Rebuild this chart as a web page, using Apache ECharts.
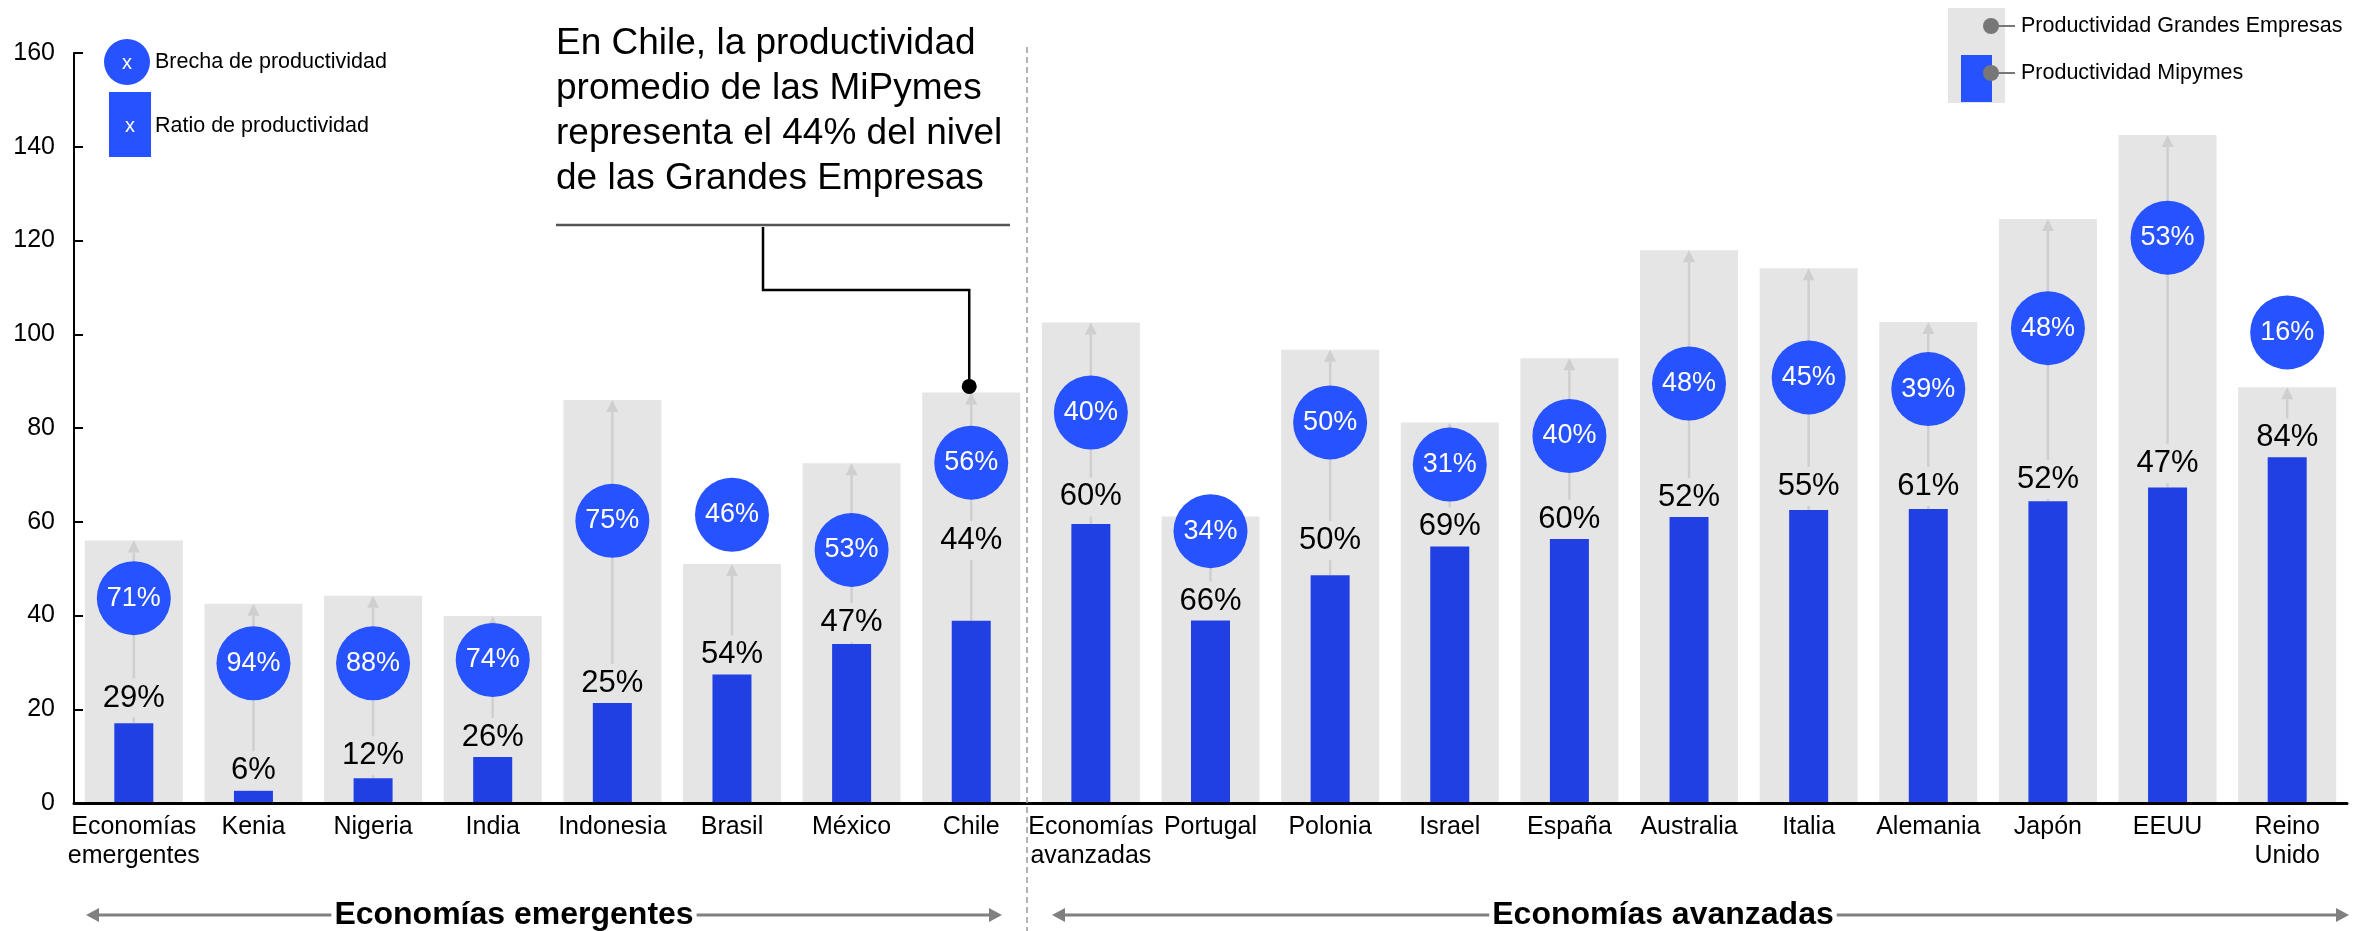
<!DOCTYPE html>
<html>
<head>
<meta charset="utf-8">
<script src="https://cdn.jsdelivr.net/npm/echarts@6/dist/echarts.min.js"></script>
<style>
  html, body { margin: 0; padding: 0; background: #fff; }
  #chart { width: 2369px; height: 931px; }
</style>
</head>
<body>
<div id="chart"></div>
<script>
// Productividad por tamaño de empresa: MiPymes vs Grandes Empresas
const categories = [
  'Economías\nemergentes', 'Kenia', 'Nigeria', 'India', 'Indonesia', 'Brasil', 'México', 'Chile',
  'Economías\navanzadas', 'Portugal', 'Polonia', 'Israel', 'España', 'Australia', 'Italia',
  'Alemania', 'Japón', 'EEUU', 'Reino\nUnido'
];
// Productividad de las Grandes Empresas (barra gris)
const grandes = [56.0, 42.5, 44.2, 39.9, 86.0, 51.0, 72.5, 87.6, 102.5, 61.1, 96.7, 81.2, 94.9, 117.9, 114.1, 102.6, 124.6, 142.5, 88.7];
// Productividad de las MiPymes (barra azul)
const mipymes = [17.0, 2.6, 5.3, 10.0, 21.5, 27.7, 33.9, 38.9, 59.5, 39.2, 48.6, 55.0, 56.3, 61.1, 62.5, 62.7, 64.4, 67.3, 73.8];
// Ratio de productividad MiPymes / Grandes (%)
const ratio = [29, 6, 12, 26, 25, 54, 47, 44, 60, 66, 50, 69, 60, 52, 55, 61, 52, 47, 84];
// Brecha de productividad (%)
const brecha = [71, 94, 88, 74, 75, 46, 53, 56, 40, 34, 50, 31, 40, 48, 45, 39, 48, 53, 16];
// Altura (en unidades del eje) donde se ubica cada etiqueta
const ratioAltura = [22.4, 6.9, 10.1, 14.0, 25.5, 31.6, 38.5, 56.0, 65.3, 43.1, 56.0, 58.9, 60.5, 65.2, 67.5, 67.5, 69.0, 72.4, 77.9];
const brechaAltura = [43.7, 29.8, 29.8, 30.5, 60.2, 61.5, 54.0, 72.6, 83.3, 58.0, 81.2, 72.2, 78.3, 89.5, 90.8, 88.3, 101.3, 120.6, 100.4];
const yTicks = { min: 0, max: 160, interval: 20 };

const FONT = "'Liberation Sans', Arial, Helvetica, sans-serif";
const GRAY = '#E5E5E5';
const BAR_BLUE = '#2040E3';
const CIRCLE_BLUE = '#2652FF';
const ARROW = '#CFCFCF';

const chart = echarts.init(document.getElementById('chart'), null, { renderer: 'canvas' });

const option = {
  animation: false,
  backgroundColor: '#fff',
  textStyle: { fontFamily: FONT },
  grid: { left: 74, right: 22, top: 53, bottom: 128, containLabel: false },
  xAxis: [
    {
      type: 'category',
      data: categories,
      axisLine: { lineStyle: { color: '#000', width: 3 } },
      axisTick: { show: false },
      axisLabel: {
        color: '#000', fontSize: 25, lineHeight: 29, margin: 10,
        fontFamily: FONT, interval: 0
      },
      splitLine: { show: false },
      z: 10
    },
    {
      // eje gemelo para centrar la barra azul sobre la gris
      type: 'category',
      data: categories,
      position: 'bottom',
      show: false
    }
  ],
  yAxis: {
    type: 'value',
    min: yTicks.min, max: yTicks.max, interval: yTicks.interval,
    axisLine: { show: true, lineStyle: { color: '#000', width: 2 } },
    axisTick: { show: true, inside: true, length: 9, lineStyle: { color: '#000', width: 2 } },
    axisLabel: { color: '#000', fontSize: 25, margin: 19, fontFamily: FONT },
    splitLine: { show: false }
  },
  series: [
    {
      name: 'Productividad Grandes Empresas',
      type: 'bar',
      xAxisIndex: 0,
      data: grandes,
      barWidth: 98,
      itemStyle: { color: GRAY },
      z: 1
    },
    {
      name: 'Productividad Mipymes',
      type: 'bar',
      xAxisIndex: 1,
      data: mipymes,
      barWidth: 39,
      itemStyle: { color: BAR_BLUE },
      z: 3
    },
    {
      // flecha desde la barra MiPyme hasta la barra de Grandes Empresas
      name: 'flecha',
      type: 'custom',
      xAxisIndex: 0,
      data: categories.map((c, i) => [i, mipymes[i], grandes[i]]),
      encode: { x: 0, y: [1, 2] },
      z: 2,
      silent: true,
      renderItem: function (params, api) {
        const base = api.coord([api.value(0), api.value(1)]);
        const tip = api.coord([api.value(0), api.value(2)]);
        const head = 12, half = 6;
        return {
          type: 'group',
          children: [
            { type: 'line', shape: { x1: base[0], y1: base[1], x2: tip[0], y2: tip[1] + head },
              style: { stroke: ARROW, lineWidth: 2.5 } },
            { type: 'polygon', shape: { points: [[tip[0], tip[1]], [tip[0] - half, tip[1] + head], [tip[0] + half, tip[1] + head]] },
              style: { fill: ARROW } }
          ]
        };
      }
    },
    {
      name: 'Ratio de productividad',
      type: 'scatter',
      xAxisIndex: 0,
      data: categories.map((c, i) => [i, ratioAltura[i], ratio[i]]),
      symbolSize: 1,
      itemStyle: { color: 'rgba(0,0,0,0)', opacity: 1 },
      z: 4,
      silent: true,
      label: {
        show: true,
        position: 'inside',
        formatter: p => p.value[2] + '%',
        color: '#000',
        opacity: 1,
        fontSize: 31,
        lineHeight: 31,
        fontFamily: FONT,
        backgroundColor: GRAY,
        padding: [5, 2, 3, 2]
      }
    },
    {
      name: 'Brecha de productividad',
      type: 'scatter',
      xAxisIndex: 0,
      data: categories.map((c, i) => [i, brechaAltura[i], brecha[i]]),
      symbol: 'circle',
      symbolSize: 74,
      itemStyle: { color: CIRCLE_BLUE, opacity: 1 },
      z: 5,
      silent: true,
      label: {
        show: true,
        position: 'inside',
        formatter: p => p.value[2] + '%',
        color: '#fff',
        fontSize: 27,
        fontFamily: FONT
      }
    }
  ]
};

chart.setOption(option);

// Elementos de anotación y leyendas
const chileIdx = categories.indexOf('Chile');
const chileTop = chart.convertToPixel({ xAxisIndex: 0, yAxisIndex: 0 }, [chileIdx, grandes[chileIdx]]);
const dotX = chileTop[0] - 2;
const dotY = chileTop[1] - 6;

function arrowHead(x, y, dir, color) {
  const L = 13, H = 7;
  return {
    type: 'polygon',
    shape: { points: [[x, y], [x - dir * L, y - H], [x - dir * L, y + H]] },
    style: { fill: color }
  };
}

const graphics = [
  // separador entre grupos
  { type: 'line', shape: { x1: 1027, y1: 47, x2: 1027, y2: 931 },
    style: { stroke: '#9a9a9a', lineWidth: 1.5, lineDash: [6, 4] } },

  // leyenda izquierda
  { type: 'circle', shape: { cx: 127, cy: 62, r: 23 }, style: { fill: CIRCLE_BLUE } },
  { type: 'text', x: 127, y: 63, style: { text: 'x', fill: '#fff', font: '20px ' + FONT, align: 'center', verticalAlign: 'middle' } },
  { type: 'text', x: 155, y: 62, style: { text: 'Brecha de productividad', fill: '#000', font: '21.5px ' + FONT, verticalAlign: 'middle' } },
  { type: 'rect', shape: { x: 109, y: 92, width: 42, height: 65 }, style: { fill: CIRCLE_BLUE } },
  { type: 'text', x: 130, y: 126, style: { text: 'x', fill: '#fff', font: '20px ' + FONT, align: 'center', verticalAlign: 'middle' } },
  { type: 'text', x: 155, y: 126, style: { text: 'Ratio de productividad', fill: '#000', font: '21.5px ' + FONT, verticalAlign: 'middle' } },

  // leyenda derecha
  { type: 'rect', shape: { x: 1948, y: 8, width: 57, height: 95 }, style: { fill: GRAY } },
  { type: 'rect', shape: { x: 1961, y: 55, width: 31, height: 47 }, style: { fill: CIRCLE_BLUE } },
  { type: 'line', shape: { x1: 1991, y1: 26, x2: 2015, y2: 26 }, style: { stroke: '#777', lineWidth: 2 } },
  { type: 'circle', shape: { cx: 1991, cy: 26, r: 8 }, style: { fill: '#777' } },
  { type: 'text', x: 2021, y: 26, style: { text: 'Productividad Grandes Empresas', fill: '#000', font: '21.5px ' + FONT, verticalAlign: 'middle' } },
  { type: 'line', shape: { x1: 1991, y1: 73, x2: 2015, y2: 73 }, style: { stroke: '#777', lineWidth: 2 } },
  { type: 'circle', shape: { cx: 1991, cy: 73, r: 8 }, style: { fill: '#777' } },
  { type: 'text', x: 2021, y: 73, style: { text: 'Productividad Mipymes', fill: '#000', font: '21.5px ' + FONT, verticalAlign: 'middle' } },

  // nota sobre Chile
  { type: 'text', x: 556, y: 21, style: {
      text: 'En Chile, la productividad\npromedio de las MiPymes\nrepresenta el 44% del nivel\nde las Grandes Empresas',
      fill: '#000', font: '37px ' + FONT, lineHeight: 45, verticalAlign: 'top' } },
  { type: 'line', shape: { x1: 556, y1: 225, x2: 1010, y2: 225 }, style: { stroke: '#555', lineWidth: 2.5 } },
  { type: 'polyline', shape: { points: [[763, 227], [763, 290], [dotX, 290], [dotX, dotY]] },
    style: { stroke: '#000', lineWidth: 2.5, fill: null } },
  { type: 'circle', shape: { cx: dotX, cy: dotY, r: 7.5 }, style: { fill: '#000' } },

  // flechas de grupo
  { type: 'line', shape: { x1: 95, y1: 915, x2: 993, y2: 915 }, style: { stroke: '#808080', lineWidth: 3 } },
  arrowHead(86, 915, -1, '#808080'),
  arrowHead(1002, 915, 1, '#808080'),
  { type: 'text', x: 514, y: 915, style: {
      text: 'Economías emergentes', fill: '#000', font: 'bold 32px ' + FONT,
      align: 'center', verticalAlign: 'middle', backgroundColor: '#fff', padding: [0, 3] } },
  { type: 'line', shape: { x1: 1061, y1: 915, x2: 2340, y2: 915 }, style: { stroke: '#808080', lineWidth: 3 } },
  arrowHead(1052, 915, -1, '#808080'),
  arrowHead(2349, 915, 1, '#808080'),
  { type: 'text', x: 1663, y: 915, style: {
      text: 'Economías avanzadas', fill: '#000', font: 'bold 32px ' + FONT,
      align: 'center', verticalAlign: 'middle', backgroundColor: '#fff', padding: [0, 3] } }
];

chart.setOption({ graphic: graphics.map(g => Object.assign({ z: 100, silent: true }, g)) });
</script>
</body>
</html>
